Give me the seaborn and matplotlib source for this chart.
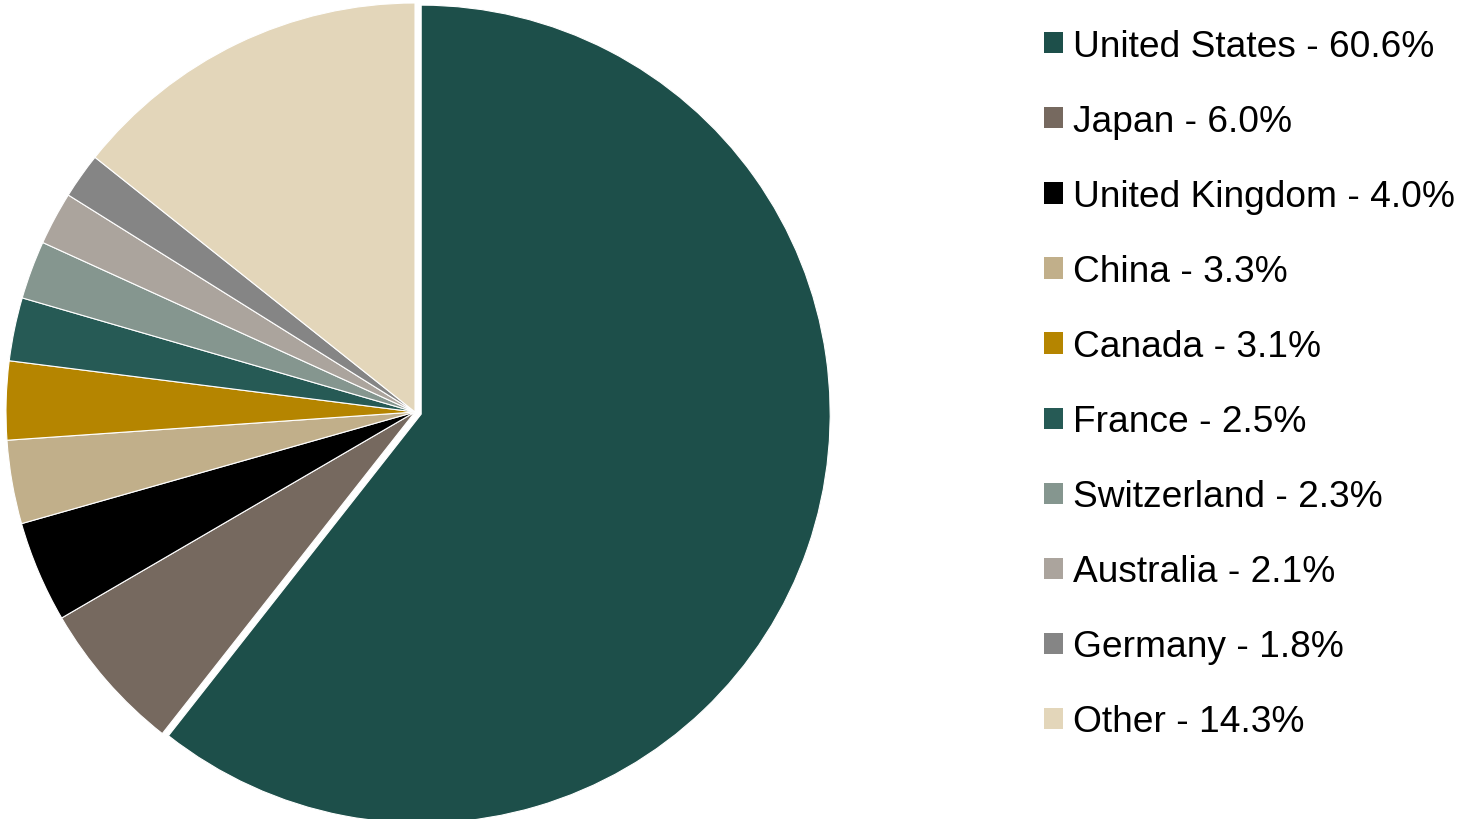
import matplotlib.pyplot as plt
import seaborn as sns
from matplotlib.patches import Patch

countries = ['United States', 'Japan', 'United Kingdom', 'China', 'Canada',
             'France', 'Switzerland', 'Australia', 'Germany', 'Other']
weights = [60.6, 6.0, 4.0, 3.3, 3.1, 2.5, 2.3, 2.1, 1.8, 14.3]
colors = ['#1D4F4A', '#76695F', '#000000', '#C1AF8A', '#B58500',
          '#265A55', '#85968F', '#ABA49D', '#858585', '#E3D6BA']

sns.set_style('white')
plt.rcParams['font.family'] = ['Liberation Sans', 'DejaVu Sans']
plt.rcParams['text.color'] = 'black'

labels = [f'{c} - {w:.1f}%' for c, w in zip(countries, weights)]
explode = [0.016] + [0] * (len(weights) - 1)

fig = plt.figure(figsize=(14.66, 8.2), dpi=100)
ax = fig.add_axes([6 / 1466, -2 / 820, 818 / 1466, 818 / 820])
ax.pie(weights, colors=colors, startangle=90, counterclock=False,
       explode=explode, radius=1,
       wedgeprops=dict(edgecolor='white', linewidth=0.8))
ax.set_xlim(-1, 1)
ax.set_ylim(-1, 1)
ax.set_aspect('equal')
ax.axis('off')

handles = [Patch(facecolor=c, edgecolor='none') for c in colors]
fs = 26.7
fig.legend(handles, labels, loc='upper left',
           bbox_to_anchor=(1044 / 1466, 1 - 30 / 820),
           frameon=False, fontsize=fs, borderpad=0, borderaxespad=0,
           handlelength=0.5, handleheight=0.5, handletextpad=0.27,
           labelspacing=1.08, labelcolor='black')

fig.savefig('out.png', dpi=100)
